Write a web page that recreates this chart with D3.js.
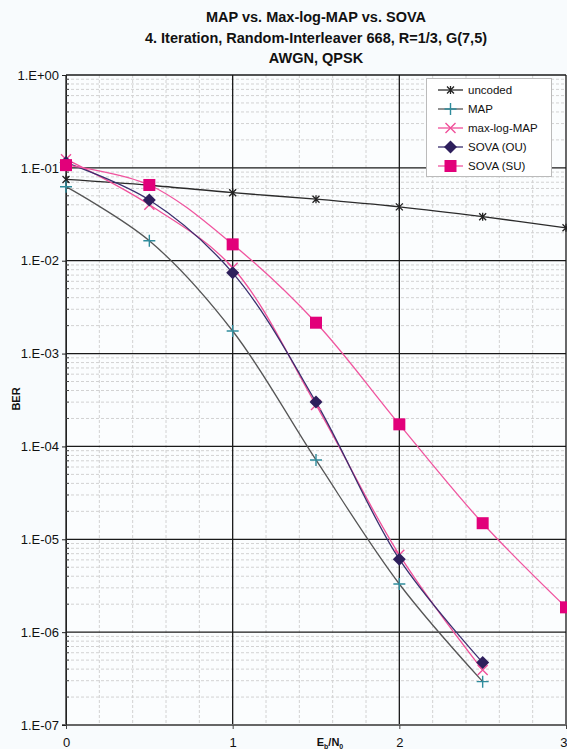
<!DOCTYPE html>
<html>
<head>
<meta charset="utf-8">
<script src="https://cdn.jsdelivr.net/npm/d3@7"></script>
<style>
  html, body { margin: 0; padding: 0; background: #f8fbfd; }
  svg { display: block; font-family: "Liberation Sans", Arial, sans-serif; }
</style>
</head>
<body>
<svg id="chart" width="567" height="749"></svg>
<script>
// Eb/N0 in dB
const ebno = [0, 0.5, 1, 1.5, 2, 2.5, 3];

// BER per decoder
const uncoded   = [0.075, 0.065, 0.054, 0.046, 0.038, 0.0298, 0.0226];
const mapBer    = [0.0627, 0.0164, 0.00175, 7.15e-5, 3.3e-6, 2.93e-7];
const maxLogMap = [0.124, 0.040, 0.0084, 2.8e-4, 6.8e-6, 3.9e-7];
const sovaOU    = [0.114, 0.045, 0.0074, 3.0e-4, 6.1e-6, 4.7e-7];
const sovaSU    = [0.107, 0.0654, 0.0150, 0.00215, 1.73e-4, 1.49e-5, 1.85e-6];

const yTickValues = [1, 1e-1, 1e-2, 1e-3, 1e-4, 1e-5, 1e-6, 1e-7];
const yTickLabels = ["1.E+00", "1.E-01", "1.E-02", "1.E-03", "1.E-04", "1.E-05", "1.E-06", "1.E-07"];
const xTickValues = [0, 1, 2, 3];

const titleLines = [
  "MAP vs. Max-log-MAP vs. SOVA",
  "4. Iteration, Random-Interleaver 668, R=1/3, G(7,5)",
  "AWGN, QPSK"
];

const series = [
  { name: "uncoded",     values: uncoded,   line: "#2b2b2b", marker: "star",    mcolor: "#222222" },
  { name: "MAP",         values: mapBer,    line: "#555555", marker: "plus",    mcolor: "#2f8c9c" },
  { name: "max-log-MAP", values: maxLogMap, line: "#f0509a", marker: "cross",   mcolor: "#f0509a" },
  { name: "SOVA (OU)",   values: sovaOU,    line: "#3a2f6e", marker: "diamond", mcolor: "#2e1f5c" },
  { name: "SOVA (SU)",   values: sovaSU,    line: "#f0559f", marker: "square",  mcolor: "#e2007a" }
];

const svg = d3.select("#chart");
const m = { left: 66, right: 566, top: 75, bottom: 725 };

const x = d3.scaleLinear().domain([0, 3]).range([m.left, m.right]);
const y = d3.scaleLog().domain([1e-7, 1]).range([m.bottom, m.top]);

// plot background
svg.append("rect")
  .attr("x", m.left).attr("y", m.top)
  .attr("width", m.right - m.left).attr("height", m.bottom - m.top)
  .attr("fill", "#fbfdfe");

// minor grid
const grid = svg.append("g");
const minorY = [];
for (let e = -7; e < 0; e++) for (let k = 2; k <= 9; k++) minorY.push(k * Math.pow(10, e));
grid.selectAll("line.my").data(minorY).join("line")
  .attr("x1", m.left).attr("x2", m.right)
  .attr("y1", d => y(d)).attr("y2", d => y(d))
  .attr("stroke", "#d2d2d2").attr("stroke-width", 1).attr("stroke-dasharray", "3,2");
const minorX = d3.range(0, 3.001, 0.2).filter(v => Math.abs(v - Math.round(v)) > 1e-6);
grid.selectAll("line.mx").data(minorX).join("line")
  .attr("x1", d => x(d)).attr("x2", d => x(d))
  .attr("y1", m.top).attr("y2", m.bottom)
  .attr("stroke", "#d2d2d2").attr("stroke-width", 1).attr("stroke-dasharray", "3,2");

// major grid
grid.selectAll("line.My").data(yTickValues).join("line")
  .attr("x1", m.left).attr("x2", m.right)
  .attr("y1", d => y(d)).attr("y2", d => y(d))
  .attr("stroke", "#1a1a1a").attr("stroke-width", 1.3);
grid.selectAll("line.Mx").data(xTickValues).join("line")
  .attr("x1", d => x(d)).attr("x2", d => x(d))
  .attr("y1", m.top).attr("y2", m.bottom)
  .attr("stroke", "#1a1a1a").attr("stroke-width", 1.3);

// bottom axis line
svg.append("line")
  .attr("x1", m.left - 4).attr("x2", m.right)
  .attr("y1", m.bottom).attr("y2", m.bottom)
  .attr("stroke", "#666").attr("stroke-width", 2);

// y axis with major and minor ticks
const yAxis = d3.axisLeft(y).tickValues(yTickValues)
  .tickFormat((d, i) => yTickLabels[i]).tickSize(4).tickPadding(3);
const gy = svg.append("g").attr("transform", `translate(${m.left},0)`).call(yAxis);
gy.select(".domain").attr("stroke", "#222");
gy.selectAll(".tick line").attr("stroke", "#222");
gy.selectAll("text").attr("font-size", 13).attr("fill", "#111");
svg.append("g").selectAll("line").data(minorY).join("line")
  .attr("x1", m.left).attr("x2", m.left + 3)
  .attr("y1", d => y(d)).attr("y2", d => y(d))
  .attr("stroke", "#444");

// x axis labels
const xAxis = d3.axisBottom(x).tickValues(xTickValues).tickFormat(d3.format("d")).tickSize(4).tickPadding(9);
const gx = svg.append("g").attr("transform", `translate(0,${m.bottom})`).call(xAxis);
gx.select(".domain").remove();
gx.selectAll(".tick line").attr("stroke", "#444");
gx.selectAll("text").attr("font-size", 13).attr("fill", "#111");
// keep the last label inside the page edge
gx.selectAll(".tick text").filter(d => d === 3).attr("text-anchor", "end").attr("x", 1);

// axis titles
const xt = svg.append("text").attr("x", 330).attr("y", 746)
  .attr("text-anchor", "middle").attr("font-size", 11).attr("font-weight", "bold").attr("fill", "#111");
xt.append("tspan").text("E");
xt.append("tspan").attr("font-size", 7).attr("dy", 3).text("b");
xt.append("tspan").attr("dy", -3).text("/N");
xt.append("tspan").attr("font-size", 7).attr("dy", 3).text("0");

svg.append("text").attr("transform", "translate(20,399) rotate(-90)")
  .attr("text-anchor", "middle").attr("font-size", 11).attr("font-weight", "bold")
  .attr("fill", "#111").text("BER");

// title
svg.append("g").selectAll("text").data(titleLines).join("text")
  .attr("x", 316).attr("y", (d, i) => 22 + i * 20.5)
  .attr("text-anchor", "middle").attr("font-size", 14.5).attr("font-weight", "bold")
  .attr("fill", "#111").text(d => d);

// markers
function drawMarker(g, type, color) {
  switch (type) {
    case "square":
      g.append("rect").attr("x", -6).attr("y", -6).attr("width", 12).attr("height", 12).attr("fill", color);
      break;
    case "diamond":
      g.append("path").attr("d", "M0,-6.5L6.5,0L0,6.5L-6.5,0Z").attr("fill", color);
      break;
    case "cross":
      g.append("path").attr("d", "M-5,-5L5,5M-5,5L5,-5").attr("stroke", color).attr("stroke-width", 1.4);
      break;
    case "plus":
      g.append("path").attr("d", "M-6,0L6,0M0,-6L0,6").attr("stroke", color).attr("stroke-width", 1.4);
      break;
    case "star":
      g.append("path").attr("d", "M-3.5,-3.5L3.5,3.5M-3.5,3.5L3.5,-3.5M0,-4L0,4").attr("stroke", color).attr("stroke-width", 1.3);
      break;
  }
}

const lineGen = d3.line()
  .x((d, i) => x(ebno[i]))
  .y(d => y(d))
  .curve(d3.curveCatmullRom.alpha(0.5));

const plot = svg.append("g");
series.forEach(s => {
  plot.append("path")
    .attr("d", lineGen(s.values))
    .attr("fill", "none").attr("stroke", s.line).attr("stroke-width", 1.3);
});
series.forEach(s => {
  plot.append("g").selectAll("g").data(s.values).join("g")
    .attr("transform", (d, i) => `translate(${x(ebno[i])},${y(d)})`)
    .each(function () { drawMarker(d3.select(this), s.marker, s.mcolor); });
});

// legend
const lg = svg.append("g");
lg.append("rect").attr("x", 426.5).attr("y", 78.5).attr("width", 125).attr("height", 98)
  .attr("fill", "#ffffff").attr("stroke", "#bbbbbb").attr("stroke-width", 1);
series.forEach((s, i) => {
  const yy = 90 + i * 19;
  lg.append("line").attr("x1", 438).attr("x2", 463).attr("y1", yy).attr("y2", yy)
    .attr("stroke", s.line).attr("stroke-width", 1.3);
  drawMarker(lg.append("g").attr("transform", `translate(450.5,${yy})`), s.marker, s.mcolor);
  lg.append("text").attr("x", 468).attr("y", yy + 4).attr("font-size", 11.5)
    .attr("fill", "#111").text(s.name);
});
</script>
</body>
</html>
